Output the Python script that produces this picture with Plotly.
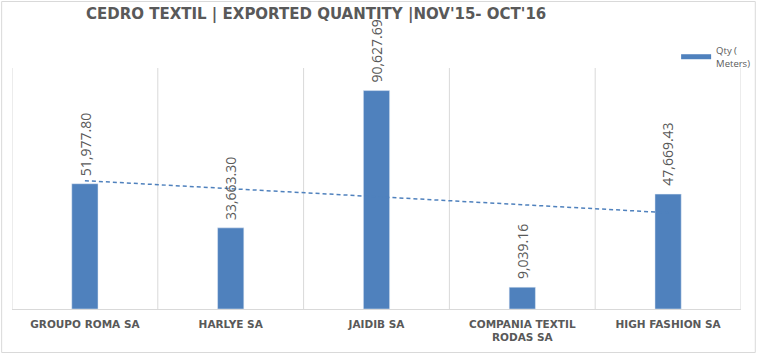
import numpy as np
import plotly.graph_objects as go

categories = ["GROUPO ROMA SA", "HARLYE SA", "JAIDIB SA", "COMPANIA TEXTIL<br>RODAS SA", "HIGH FASHION SA"]
qty = [51977.80, 33663.30, 90627.69, 9039.16, 47669.43]
series_name = "Qty (<br>Meters)"
title_text = "CEDRO TEXTIL | EXPORTED QUANTITY |NOV'15- OCT'16"

W, H = 768, 354
ml, mr, mt, mb = 12, 16, 68, 45

idx = np.arange(len(qty))
slope, intercept = np.polyfit(idx, qty, 1)
trend = slope * idx + intercept

bar_color = "#4F81BD"
gray = "#595959"

fig = go.Figure()
fig.add_trace(go.Bar(
    x=idx, y=qty, marker_color=bar_color, showlegend=False,
))
fig.add_trace(go.Scatter(
    x=idx, y=trend, mode="lines", showlegend=False,
    line=dict(color=bar_color, width=1.5, dash="4px,3px"),
))
fig.add_trace(go.Scatter(
    x=[None], y=[None], mode="lines", name=series_name,
    line=dict(color=bar_color, width=5),
))

annotations = []
for i, v in zip(idx, qty):
    annotations.append(dict(x=i, y=v, xref="x", yref="y", text=f"{v:,.2f}", textangle=-90,
                            showarrow=False, xanchor="center", yanchor="bottom", yshift=6,
                            font=dict(family="Open Sans", size=14, color=gray)))

fig.update_layout(
    width=W, height=H, margin=dict(l=ml, r=mr, t=mt, b=mb),
    paper_bgcolor="white", plot_bgcolor="white",
    bargap=0.82,
    title=dict(text="<b>" + title_text + "</b>", x=86 / W, xanchor="left", y=1 - 14 / H, yanchor="middle",
               font=dict(family="DejaVu Sans", size=15, color=gray)),
    xaxis=dict(tickmode="array", tickvals=idx, ticktext=["<b>" + c + "</b>" for c in categories],
               range=[-0.5, len(qty) - 0.5], showgrid=False, showline=True, linecolor="#d9d9d9",
               tickfont=dict(family="DejaVu Sans", size=10.5, color=gray), ticks="", zeroline=False,
               ticklabelstandoff=5),
    yaxis=dict(range=[0, 100000], visible=False, showgrid=False, zeroline=False),
    legend=dict(x=0.911, y=1.125, xanchor="left", yanchor="top", bgcolor="rgba(0,0,0,0)",
                font=dict(family="Open Sans", size=9.5, color=gray), itemwidth=30, tracegroupgap=0),
    showlegend=True,
    annotations=annotations,
)

shapes = []
for b in np.arange(-0.5, len(qty) - 0.4, 1.0):
    shapes.append(dict(type="line", xref="x", yref="paper", x0=b, x1=b, y0=0, y1=1,
                       line=dict(color="#d9d9d9", width=1), layer="below"))
pw = W - ml - mr
ph = H - mt - mb
shapes.append(dict(type="rect", xref="paper", yref="paper",
                   x0=(1.5 - ml) / pw, x1=(W - 1.5 - ml) / pw,
                   y0=-(mb - 1.5) / ph, y1=1 + (mt - 1.5) / ph,
                   line=dict(color="#d9d9d9", width=1), fillcolor="rgba(0,0,0,0)", layer="below"))
fig.update_layout(shapes=shapes)

fig.write_html("out.html")
